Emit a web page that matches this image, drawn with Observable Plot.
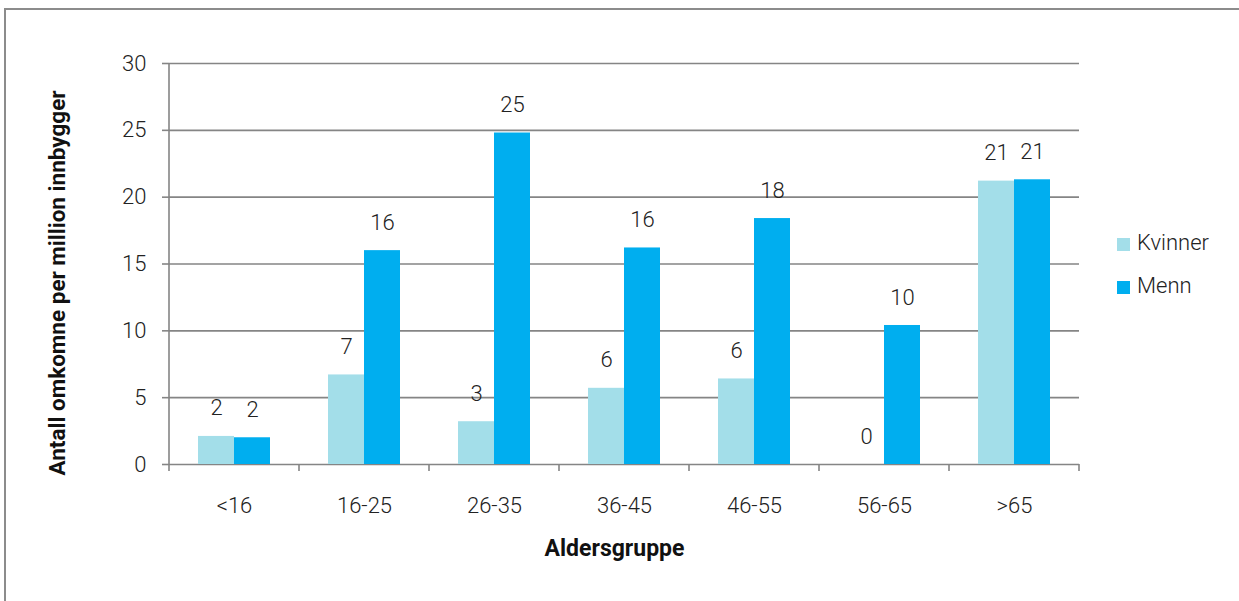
<!DOCTYPE html>
<html>
<head>
<meta charset="utf-8">
<script src="https://cdn.jsdelivr.net/npm/d3@7"></script>
<script src="https://cdn.jsdelivr.net/npm/@observablehq/plot@0.6"></script>
<style>
  html, body { margin: 0; padding: 0; background: #fff; overflow: hidden; }
  #chart { position: relative; width: 1239px; height: 601px; font-family: Roboto, "Noto Sans", sans-serif; }
  #chart .frame { position: absolute; left: 4px; top: 8px; width: 1300px; height: 700px; border: 2px solid #8c8c8c; box-sizing: border-box; }
  #chart svg { position: absolute; left: 0; top: 0; }
  #legend { position: absolute; left: 1117px; top: 221px; font-size: 22px; font-weight: 300; color: #222; line-height: 43px; }
  #legend .sw { display: inline-block; width: 13px; height: 13px; margin-right: 7px; vertical-align: -1px; }
</style>
</head>
<body>
<div id="chart"><div class="frame"></div></div>
<script>
// Age groups and rates (deaths per million inhabitants) by sex
const ages = ["<16", "16-25", "26-35", "36-45", "46-55", "56-65", ">65"];
const kvinner = [2.1, 6.7, 3.2, 5.7, 6.4, 0, 21.2];
const menn = [2.0, 16.0, 24.8, 16.2, 18.4, 10.4, 21.3];
const series = ["Kvinner", "Menn"];
const colors = ["#a3dee9", "#00aeef"];
const yTicks = [0, 5, 10, 15, 20, 25, 30];
const yTitle = "Antall omkomne per million innbygger";
const xTitle = "Aldersgruppe";

const GRID = "#858585";
const INK = "#222";

const rows = ages.flatMap((age, i) => [
  {age, sex: series[0], value: kvinner[i]},
  {age, sex: series[1], value: menn[i]}
]);

// Vertical axis line and the boundary ticks between age groups
function axisLines(index, scales) {
  const {fx, y} = scales;
  const g = d3.create("svg:g").attr("stroke", GRID).attr("stroke-width", 1.6);
  const left = fx(ages[0]);
  const bw = fx.bandwidth();
  g.append("line")
    .attr("x1", left).attr("x2", left)
    .attr("y1", y(30)).attr("y2", y(0));
  const edges = ages.map((a) => fx(a)).concat([fx(ages[ages.length - 1]) + bw]);
  g.selectAll(".edge").data(edges).join("line")
    .attr("x1", (d) => d).attr("x2", (d) => d)
    .attr("y1", y(0)).attr("y2", y(0) + 7);
  return g.node();
}

const plot = Plot.plot({
  width: 1239,
  height: 601,
  marginLeft: 168,
  marginRight: 159,
  marginTop: 63,
  marginBottom: 137,
  style: {fontFamily: "Roboto, 'Noto Sans', sans-serif", fontSize: "22px", fontWeight: 300, color: INK, background: "transparent", overflow: "visible"},
  fx: {domain: ages, padding: 0, label: null},
  x: {domain: series, paddingInner: 0, paddingOuter: 0.76, axis: null},
  y: {domain: [0, 30], label: null},
  color: {domain: series, range: colors},
  marks: [
    Plot.gridY(yTicks, {stroke: GRID, strokeOpacity: 1, strokeWidth: 1.6}),
    Plot.axisY(yTicks, {tickSize: 7, tickPadding: 16, stroke: GRID, strokeWidth: 1.6, strokeOpacity: 1, label: null, fontSize: 22, fill: INK}),
    Plot.axisFx({anchor: "bottom", tickSize: 0, tickPadding: 33, label: null, fontSize: 22, fill: INK}),
    Plot.barY(rows, {fx: "age", x: "sex", y: "value", fill: "sex"}),
    Plot.text(rows, {
      fx: "age", x: "sex", y: "value",
      text: (d) => d3.format(".0f")(d.value),
      dy: -28, fill: INK, fontSize: 22, lineAnchor: "middle"
    }),
    Plot.frame({facet: "super", render: axisLines}),
    Plot.text([yTitle], {
      facet: "super", frameAnchor: "left", rotate: -90, textAnchor: "middle", lineAnchor: "middle",
      dx: -112, dy: 19, fontSize: 22.5, fontWeight: "bold", fill: "#111"
    }),
    Plot.text([xTitle], {
      facet: "super", frameAnchor: "bottom", lineAnchor: "middle",
      dx: -10, dy: 84, fontSize: 23, fontWeight: "bold", fill: "#111"
    })
  ]
});

const chart = document.getElementById("chart");
chart.appendChild(plot);

// Legend to the right of the plot
const legend = d3.select(chart).append("div").attr("id", "legend");
series.forEach((s, i) => {
  const item = legend.append("div");
  item.append("span").attr("class", "sw").style("background", colors[i]);
  item.append("span").text(s);
});
</script>
</body>
</html>
